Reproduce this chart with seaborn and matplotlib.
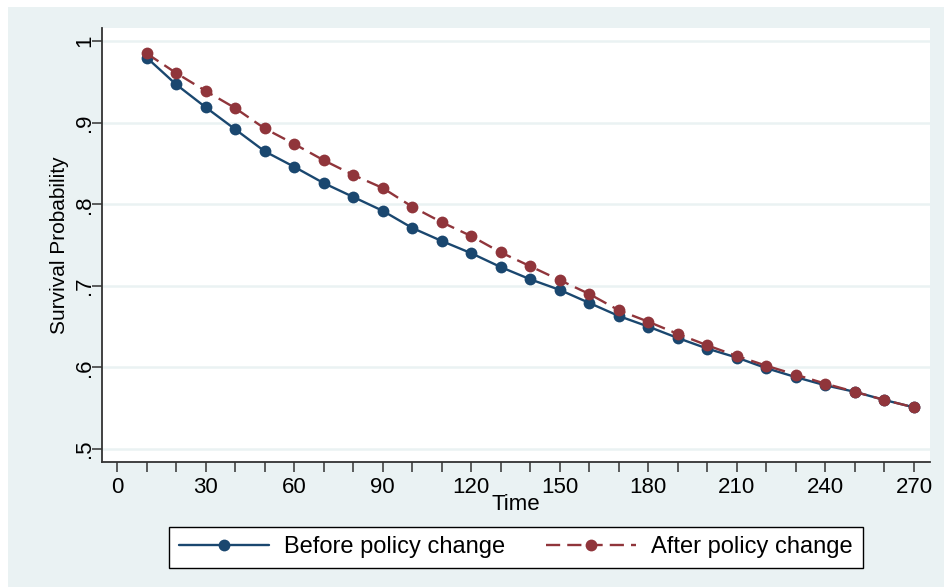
"""Survival probability before and after the policy change"""
import matplotlib
matplotlib.use("Agg")
import matplotlib.pyplot as plt
from matplotlib.patches import Rectangle
from matplotlib.ticker import MultipleLocator
import pandas as pd
import seaborn as sns


TIME = [10, 20, 30, 40, 50, 60, 70, 80, 90, 100, 110, 120, 130, 140,
        150, 160, 170, 180, 190, 200, 210, 220, 230, 240, 250, 260, 270]
BEFORE = [0.980, 0.947, 0.919, 0.892, 0.865, 0.846, 0.826, 0.809, 0.792,
          0.771, 0.755, 0.740, 0.723, 0.708, 0.695, 0.679, 0.663, 0.650,
          0.636, 0.623, 0.612, 0.599, 0.588, 0.578, 0.570, 0.560, 0.551]
AFTER = [0.985, 0.961, 0.939, 0.918, 0.893, 0.874, 0.854, 0.836, 0.820,
         0.797, 0.778, 0.761, 0.741, 0.724, 0.707, 0.690, 0.670, 0.656,
         0.641, 0.627, 0.614, 0.602, 0.591, 0.580, 0.570, 0.560, 0.551]
Y_TICKS = [0.5, 0.6, 0.7, 0.8, 0.9, 1.0]
Y_LABELS = [".5", ".6", ".7", ".8", ".9", "1"]

NAVY = "#1a476f"
MAROON = "#90353b"
PANEL = "#eaf2f3"


def plot_survival():
    sns.set_style("white")
    plt.rcParams["font.family"] = ["Liberation Sans", "DejaVu Sans"]
    plt.rcParams["text.color"] = "black"

    df = pd.DataFrame({"Time": TIME,
                       "Before policy change": BEFORE,
                       "After policy change": AFTER})

    fig = plt.figure(figsize=(9.45, 5.87), dpi=100, facecolor="white")
    # outer stata-like panel
    fig.patches.append(Rectangle((8 / 945, 0), 1 - 8 / 945, 1 - 7 / 587,
                                 transform=fig.transFigure,
                                 facecolor=PANEL, edgecolor="none",
                                 zorder=-10))
    ax = fig.add_axes([0.108, 0.213, 0.876, 0.739])
    ax.set_facecolor("white")

    sns.lineplot(data=df, x="Time", y="Before policy change", ax=ax,
                 color=NAVY, marker="o", markersize=8.5, markeredgewidth=0,
                 linewidth=1.7, label="Before policy change")
    sns.lineplot(data=df, x="Time", y="After policy change", ax=ax,
                 color=MAROON, marker="o", markersize=8.5, markeredgewidth=0,
                 linewidth=1.7, linestyle=(0, (6, 3)),
                 label="After policy change")

    ax.set_xlim(-5.1, 275.4)
    ax.set_ylim(0.484, 1.016)
    ax.xaxis.set_major_locator(MultipleLocator(30))
    ax.xaxis.set_minor_locator(MultipleLocator(10))
    ax.set_yticks(Y_TICKS)
    ax.set_yticklabels(Y_LABELS, rotation=90, va="center")
    ax.yaxis.grid(True, color=PANEL, linewidth=1.8)
    ax.set_axisbelow(True)

    for side in ["top", "right"]:
        ax.spines[side].set_visible(False)
    for side in ["left", "bottom"]:
        ax.spines[side].set_color("#333333")
        ax.spines[side].set_linewidth(1.3)
    ax.tick_params(axis="both", which="both", direction="out", length=7,
                   width=1.1, color="#333333", labelsize=16,
                   labelcolor="black", bottom=True, left=True)
    ax.tick_params(axis="x", which="both", pad=4)
    ax.tick_params(axis="y", which="both", pad=-2)

    ax.set_xlabel("Time", fontsize=16, labelpad=-3, color="black")
    ax.set_ylabel("Survival Probability", fontsize=15, labelpad=4,
                  color="black")

    ax.legend(loc="upper center", bbox_to_anchor=(0.5, -0.150), ncol=2,
              frameon=True, fancybox=False, edgecolor="black",
              fontsize=17, handlelength=3.8, handletextpad=0.65,
              columnspacing=1.75, borderpad=0.4, borderaxespad=0,
              framealpha=1)

    fig.savefig("out.png", dpi=100, facecolor=fig.get_facecolor())


if __name__ == "__main__":
    plot_survival()
